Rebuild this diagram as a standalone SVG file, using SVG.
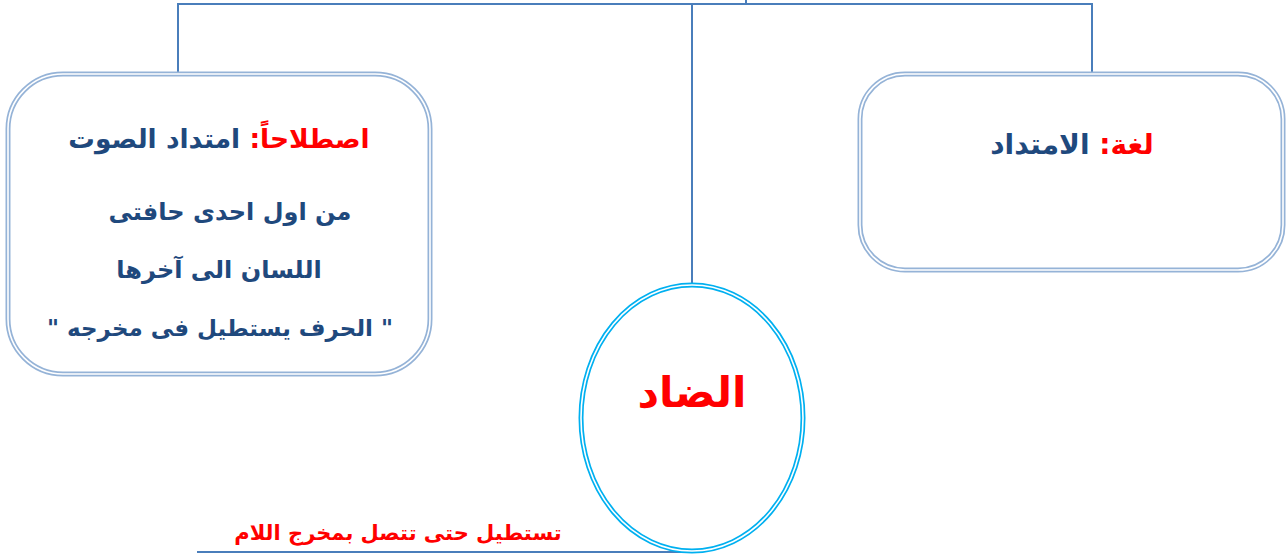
<svg xmlns="http://www.w3.org/2000/svg" width="1287" height="560" viewBox="0 0 1287 560">
<style>
.conn{stroke:#4A7EBB;stroke-width:2;fill:none}
.boxo{fill:#fff;stroke:#95B3D7;stroke-width:5}
.boxi{fill:none;stroke:#fff;stroke-width:1.6}
.ello{fill:#fff;stroke:#00B0F0;stroke-width:5}
.elli{fill:none;stroke:#fff;stroke-width:1.6}
.t{font-family:"DejaVu Sans",sans-serif;font-weight:bold;fill:#1F497D;text-anchor:middle}
.r{fill:#FF0000}
</style>
<g id="connectors">
<path class="conn" d="M178,72 V4 H1092 V72"/>
<path class="conn" d="M746,0 V4"/>
<path class="conn" d="M692,4 V286"/>
<path class="conn" d="M197,552 H692"/>
</g>
<g id="node-istilahan">
<rect class="boxo" x="8" y="74" width="422" height="300" rx="55"/>
<rect class="boxi" x="8" y="74" width="422" height="300" rx="55"/>
<text class="t" x="219" y="148" font-size="26.5" direction="rtl"><tspan class="r">اصطلاحاً:</tspan> امتداد الصوت</text>
<text class="t" x="230" y="220" font-size="24" direction="rtl">من اول احدى حافتى</text>
<text class="t" x="219" y="278" font-size="24" direction="rtl">اللسان الى آخرها</text>
<text class="t" x="220" y="336" font-size="23" direction="rtl">" الحرف يستطيل فى مخرجه "</text>
</g>
<g id="node-lugha">
<rect class="boxo" x="860" y="74" width="423" height="196" rx="45"/>
<rect class="boxi" x="860" y="74" width="423" height="196" rx="45"/>
<text class="t" x="1072" y="154" font-size="28" direction="rtl"><tspan class="r">لغة:</tspan> الامتداد</text>
</g>
<g id="node-dad">
<ellipse class="ello" cx="692" cy="418" rx="111" ry="133"/>
<ellipse class="elli" cx="692" cy="418" rx="111" ry="133"/>
<text class="t r" x="692" y="407" font-size="42" direction="rtl">الضاد</text>
</g>
<g id="label-bottom">
<text class="t r" x="398" y="540" font-size="21" direction="rtl">تستطيل حتى تتصل بمخرج اللام</text>
</g>
</svg>
